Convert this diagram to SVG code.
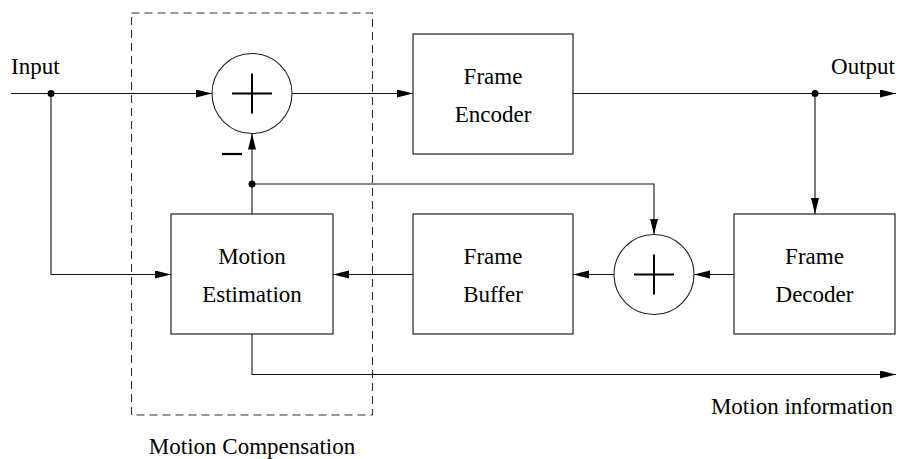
<svg xmlns="http://www.w3.org/2000/svg" width="899" height="459" viewBox="0 0 899 459">
  <style>
    .box { fill: #fff; stroke: #222; stroke-width: 1.2; }
    .sum { fill: #fff; stroke: #222; stroke-width: 1.1; }
    .plus { stroke: #000; stroke-width: 2; fill: none; }
    .wire { fill: none; stroke: #111; stroke-width: 1.1; }
    .dash { fill: none; stroke: #333; stroke-width: 1.1; stroke-dasharray: 8 5; }
    text { font-size: 23px; fill: #000; }
    .mid { text-anchor: middle; }
    .end { text-anchor: end; }
    .dot { fill: #000; }
  </style>
  <defs>
    <marker id="arrow" markerUnits="userSpaceOnUse" markerWidth="17" markerHeight="9" refX="16" refY="4" orient="auto">
      <path d="M0,0 L16,4 L0,8 z" fill="#000"/>
    </marker>
  </defs>

  <rect width="899" height="459" fill="#fff"/>

  <g font-family="Liberation Serif, Tinos, Times New Roman, DejaVu Serif, serif">

  <!-- motion compensation boundary -->
  <g id="motion-compensation">
    <rect class="dash" x="131.5" y="13" width="241" height="402"/>
    <text class="mid" x="252" y="454">Motion Compensation</text>
  </g>

  <!-- connectors -->
  <g id="connectors">
    <line class="wire" x1="11" y1="93.5" x2="212" y2="93.5" marker-end="url(#arrow)"/>
    <polyline class="wire" points="51,93.5 51,274.5 171,274.5" marker-end="url(#arrow)"/>
    <line class="wire" x1="292" y1="93.5" x2="413" y2="93.5" marker-end="url(#arrow)"/>
    <line class="wire" x1="573" y1="93.5" x2="896" y2="93.5" marker-end="url(#arrow)"/>
    <line class="wire" x1="815" y1="93.5" x2="815" y2="214" marker-end="url(#arrow)"/>
    <line class="wire" x1="734" y1="274.5" x2="694" y2="274.5" marker-end="url(#arrow)"/>
    <line class="wire" x1="614" y1="274.5" x2="573" y2="274.5" marker-end="url(#arrow)"/>
    <line class="wire" x1="413" y1="274.5" x2="333" y2="274.5" marker-end="url(#arrow)"/>
    <line class="wire" x1="252" y1="214" x2="252" y2="133.5" marker-end="url(#arrow)"/>
    <polyline class="wire" points="252,184 654,184 654,234.5" marker-end="url(#arrow)"/>
    <polyline class="wire" points="252,334 252,374.5 896,374.5" marker-end="url(#arrow)"/>
    <circle class="dot" cx="51" cy="93.5" r="3.5"/>
    <circle class="dot" cx="815" cy="93.5" r="3.5"/>
    <circle class="dot" cx="252" cy="184" r="3.5"/>
    <line x1="222" y1="154" x2="242" y2="154" stroke="#000" stroke-width="2.2"/>
  </g>

  <!-- subtractor -->
  <g id="subtractor">
    <circle class="sum" cx="252" cy="93.5" r="40"/>
    <path class="plus" d="M232,93.5 H272 M252,73.5 V113.5"/>
  </g>

  <!-- reconstruction adder -->
  <g id="adder">
    <circle class="sum" cx="654" cy="274.5" r="40"/>
    <path class="plus" d="M634,274.5 H674 M654,254.5 V294.5"/>
  </g>

  <g id="frame-encoder">
    <rect class="box" x="413" y="34" width="160" height="120"/>
    <text class="mid" x="493" y="84">Frame</text>
    <text class="mid" x="493" y="122">Encoder</text>
  </g>

  <g id="motion-estimation">
    <rect class="box" x="171" y="214" width="162" height="120"/>
    <text class="mid" x="252" y="264">Motion</text>
    <text class="mid" x="252" y="302">Estimation</text>
  </g>

  <g id="frame-buffer">
    <rect class="box" x="413" y="214" width="160" height="120"/>
    <text class="mid" x="493" y="264">Frame</text>
    <text class="mid" x="493" y="302">Buffer</text>
  </g>

  <g id="frame-decoder">
    <rect class="box" x="734" y="214" width="161" height="120"/>
    <text class="mid" x="814.5" y="264">Frame</text>
    <text class="mid" x="814.5" y="302">Decoder</text>
  </g>

  <!-- port labels -->
  <g id="labels">
    <text x="11" y="74">Input</text>
    <text class="end" x="895" y="74">Output</text>
    <text class="end" x="893" y="414">Motion information</text>
  </g>

  </g>
</svg>
